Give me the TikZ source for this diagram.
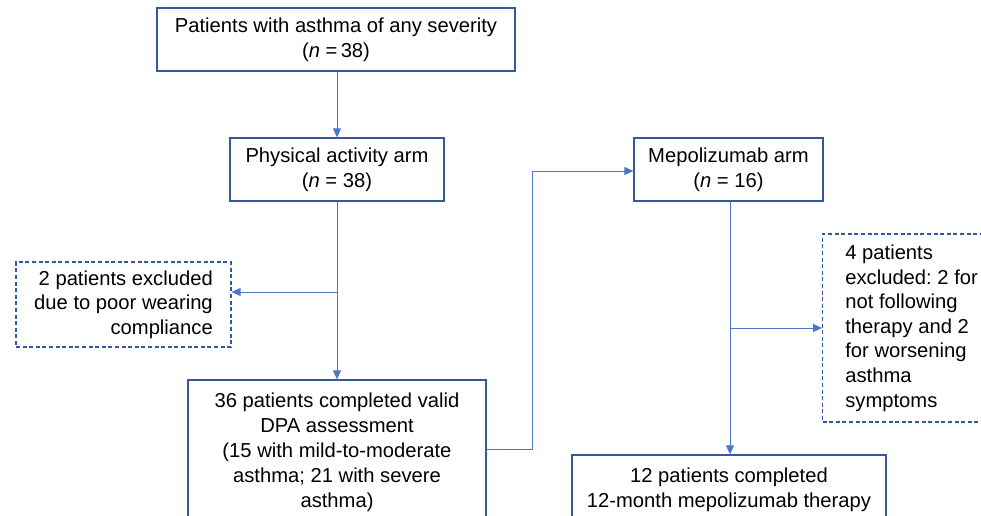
\documentclass[tikz,border=0pt]{standalone}
\usepackage{fontspec}
\setmainfont{Liberation Sans}
\usetikzlibrary{arrows.meta}
\definecolor{boxblue}{HTML}{34589A}
\definecolor{lineblue}{HTML}{4A78C8}
\tikzset{
  box/.style={draw=boxblue, line width=1.3pt, fill=white, inner sep=0pt,
    font=\fontsize{20.2}{25}\selectfont, align=center},
  dbox/.style={draw=boxblue, line width=1.2pt, dash pattern=on 4pt off 2.6pt, fill=white,
    inner ysep=0pt, inner xsep=13pt, font=\fontsize{20.2}{24.6}\selectfont},
  conn/.style={draw=lineblue, line width=0.9pt, -{Triangle[length=9pt,width=8pt]}},
}
\frenchspacing
\begin{document}
\begin{tikzpicture}[x=1pt,y=-1pt]
\clip (0,0) rectangle (981,515);
\fill[white] (0,0) rectangle (981,515);
\node[box, minimum width=358pt, minimum height=63pt] (top) at (336,39.5)
  {Patients with asthma of any severity\\(\textit{n} =\,38)};
\node[box, minimum width=214pt, minimum height=63pt] (pa) at (337,169.5)
  {Physical activity arm\\(\textit{n} = 38)};
\node[box, minimum width=189pt, minimum height=63pt] (mepo) at (728.5,169.5)
  {Mepolizumab arm\\(\textit{n} = 16)};
\node[box, minimum width=298pt, minimum height=145pt] (b3) at (337,452.5)
  {36 patients completed valid\\DPA assessment\\(15 with mild-to-moderate\\asthma; 21 with severe\\asthma)};
\node[box, minimum width=314pt, minimum height=70pt] (b4) at (729,490)
  {12 patients completed\\12-month mepolizumab therapy};
\node[dbox, align=right, minimum width=215pt, minimum height=85pt] (exl) at (123.5,304.5)
  {2 patients excluded\\due to poor wearing\\compliance};
\node[dbox, align=left, anchor=west, minimum height=188pt, minimum width=178pt] (exr) at (822,328)
  {4 patients\\excluded: 2 for\\not following\\therapy and 2\\for worsening\\asthma\\symptoms};
\coordinate (j1) at (337,292);
\coordinate (j2) at (730,328);
\coordinate (k1) at (532,449);
\coordinate (k2) at (532,171);
\draw[conn] (pa.north |- top.south) -- (pa.north);
\draw[conn] (pa.south) -- (b3.north);
\draw[conn] (j1) -- (j1 -| exl.east);
\draw[conn] (b3.east |- k1) -- (k1) -- (k2) -- (k2 -| mepo.west);
\draw[conn] (j2 |- mepo.south) -- (j2 |- b4.north);
\draw[conn] (j2) -- (j2 -| exr.west);
\end{tikzpicture}
\end{document}
